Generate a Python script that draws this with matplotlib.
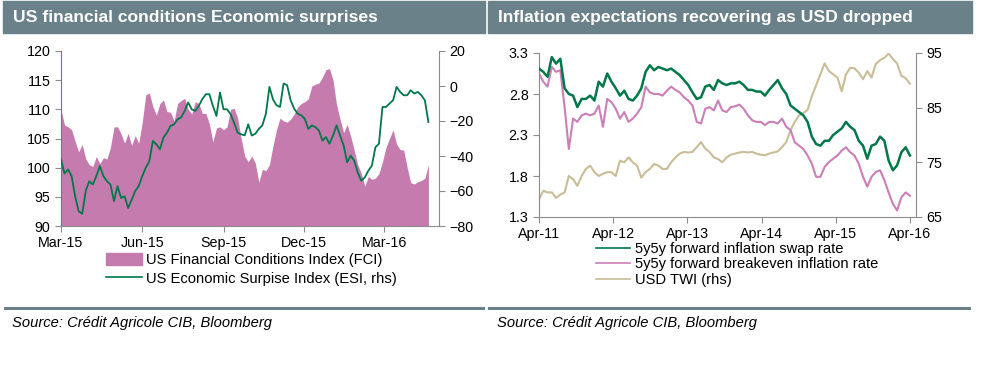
import numpy as np
import pandas as pd
import matplotlib
matplotlib.use("Agg")
import matplotlib.pyplot as plt
import matplotlib.dates as mdates
from matplotlib.patches import Rectangle, Patch
from matplotlib.lines import Line2D

plt.rcParams['font.family'] = ['Liberation Sans', 'DejaVu Sans']

BAR = '#6A8189'
SPINE = '#8C8C8C'

# left panel: sampled every 4 days from 1 Mar 2015
fci = [110.0, 107.3, 107.0, 106.5, 104.5, 102.7, 104.0, 101.5, 100.5, 100.2,
       101.9, 100.7, 101.7, 101.5, 103.5, 107.0, 107.0, 105.8, 104.2, 105.9,
       103.8, 105.5, 104.2, 107.8, 112.5, 112.8, 110.5, 109.0, 111.0, 111.6,
       109.6, 109.5, 108.0, 111.0, 111.5, 111.9, 110.0, 109.2, 111.3, 111.0,
       109.3, 109.3, 107.5, 104.4, 106.8, 107.0, 106.5, 107.0, 110.0, 110.2,
       108.5, 105.0, 102.0, 101.0, 102.0, 100.8, 97.5, 99.7, 99.5, 100.5,
       103.7, 106.5, 108.5, 108.0, 107.8, 108.3, 109.2, 110.4, 111.0, 111.3,
       111.8, 114.0, 114.3, 114.5, 115.5, 116.8, 117.0, 115.0, 110.8, 108.3,
       106.0, 107.4, 105.4, 103.0, 100.5, 99.0, 96.8, 98.5, 98.0, 98.2,
       99.0, 101.0, 103.5, 105.0, 106.5, 104.0, 103.1, 103.0, 100.0, 97.4,
       97.2, 97.6, 97.8, 98.2, 100.5]
esi = [-42, -50, -47.7, -51.5, -63, -71.6, -73, -60, -54.4, -56.3,
       -51.5, -45.8, -51.5, -54.4, -56.3, -65.8, -57.2, -64, -63, -69.7,
       -65, -60, -57.2, -51.5, -46.7, -43, -31.4, -33.3, -36.2, -29.5,
       -26.7, -22.8, -21.9, -19, -18, -14.2, -9.4, -13.3, -14.2, -11.4,
       -7.5, -4.7, -4.7, -11.4, -17.1, -3.7, -13.3, -13.3, -16.1, -21,
       -26.7, -27.6, -28.2, -21.9, -28.3, -27.3, -24.5, -22.5, -15.8, -0.5,
       -7.6, -11, -12, 1.4, 0.5, -8.2, -13, -15.8, -16.8, -18.7,
       -24.5, -22.5, -23.5, -25.4, -31.2, -29.2, -33, -28.3, -22.5, -28.3,
       -34, -43.6, -39.8, -42.7, -49.4, -54.2, -52.2, -48.4, -45.5, -35,
       -33, -12, -12, -10, -8.2, -0.5, -3.4, -5.3, -5.3, -2.4,
       -4.3, -3.4, -5.3, -8.2, -20.6]
left_dates = pd.date_range('2015-03-01', periods=len(fci), freq='4D')
left_ticks = ['2015-03-01', '2015-06-01', '2015-09-01', '2015-12-01', '2016-03-01']

# right panel: sampled every 21 days from 1 Apr 2011
swap = [3.11, 3.07, 3.01, 3.25, 3.17, 3.23, 2.87, 2.80, 2.78, 2.64,
        2.74, 2.74, 2.78, 2.72, 2.95, 2.89, 3.05, 2.95, 2.87, 2.78,
        2.84, 2.74, 2.72, 2.78, 2.87, 3.07, 3.15, 3.09, 3.13, 3.11,
        3.09, 3.11, 3.07, 3.03, 2.97, 2.91, 2.82, 2.74, 2.76, 2.89,
        2.91, 2.85, 2.97, 2.93, 2.91, 2.93, 2.93, 2.95, 2.91, 2.85,
        2.85, 2.83, 2.83, 2.78, 2.85, 2.91, 2.97, 2.87, 2.80, 2.66,
        2.62, 2.58, 2.54, 2.46, 2.28, 2.19, 2.17, 2.23, 2.23, 2.30,
        2.34, 2.38, 2.46, 2.40, 2.36, 2.23, 2.17, 2.01, 2.17, 2.19,
        2.28, 2.23, 1.99, 1.87, 1.93, 2.09, 2.15, 2.05]
breakeven = [3.05, 2.95, 2.89, 3.13, 3.07, 3.09, 2.64, 2.13, 2.50, 2.46,
             2.54, 2.56, 2.54, 2.56, 2.66, 2.40, 2.74, 2.70, 2.62, 2.50,
             2.58, 2.46, 2.50, 2.56, 2.64, 2.89, 2.82, 2.80, 2.80, 2.78,
             2.84, 2.89, 2.85, 2.82, 2.76, 2.72, 2.66, 2.46, 2.44, 2.62,
             2.64, 2.60, 2.72, 2.60, 2.58, 2.64, 2.65, 2.67, 2.62, 2.54,
             2.48, 2.46, 2.46, 2.42, 2.46, 2.46, 2.44, 2.50, 2.40, 2.36,
             2.21, 2.17, 2.13, 2.05, 1.95, 1.79, 1.79, 1.91, 1.97, 2.01,
             2.05, 2.11, 2.15, 2.09, 2.05, 1.95, 1.79, 1.67, 1.79, 1.85,
             1.87, 1.75, 1.60, 1.46, 1.38, 1.54, 1.60, 1.56]
twi = [68.2, 69.8, 69.5, 69.5, 68.5, 69.1, 69.5, 72.5, 71.9, 70.7,
       72.5, 73.8, 74.4, 73.2, 72.5, 72.9, 73.2, 73.2, 72.5, 75.3,
       75.0, 75.9, 75.0, 74.4, 72.2, 73.2, 73.8, 74.7, 74.4, 73.8,
       73.8, 75.0, 75.9, 76.6, 76.9, 76.8, 76.9, 77.8, 78.7, 77.5,
       76.9, 75.9, 75.6, 75.0, 75.9, 76.4, 76.6, 76.8, 76.9, 76.8,
       76.9, 76.6, 76.4, 76.3, 76.6, 76.8, 77.0, 77.8, 78.7, 80.9,
       82.4, 83.6, 84.0, 84.6, 87.1, 89.1, 91.1, 93.1, 91.7, 91.1,
       90.5, 88.0, 91.1, 92.3, 92.2, 91.4, 90.2, 91.7, 90.5, 93.0,
       93.7, 94.1, 94.9, 93.9, 93.1, 90.8, 90.4, 89.4]
right_dates = pd.date_range('2011-04-01', periods=len(swap), freq='21D')
right_ticks = ['2011-04-01', '2012-04-01', '2013-04-01', '2014-04-01',
               '2015-04-01', '2016-04-01']

W, H = 988, 384
fig = plt.figure(figsize=(W / 100, H / 100), dpi=100)


def fx(px):
    return px / W


def fy(py):
    return 1 - py / H


def style_axes(ax):
    for s in ['top', 'right']:
        ax.spines[s].set_visible(False)
    for s in ['left', 'bottom']:
        ax.spines[s].set_color(SPINE)
    ax.tick_params(colors=SPINE, labelcolor='black', labelsize=10.3,
                   length=4, width=0.8)


# title bars, separators, sources
for x0, x1, title in [(3, 485, 'US financial conditions Economic surprises'),
                      (488, 972, 'Inflation expectations recovering as USD dropped')]:
    fig.patches.append(Rectangle((fx(x0), fy(33)), fx(x1 - x0), 32 / H,
                                 transform=fig.transFigure, color=BAR, zorder=0))
    fig.text(fx(x0 + 10), fy(17.5), title, color='white', fontsize=12.6,
             fontweight='bold', va='center', ha='left')
for x0, x1 in [(5, 483), (489, 969)]:
    fig.add_artist(Line2D([fx(x0), fx(x1)], [fy(307.5), fy(307.5)],
                          transform=fig.transFigure, color=BAR, lw=2.2))
for x0 in [12, 497]:
    fig.text(fx(x0), fy(323), 'Source: Crédit Agricole CIB, Bloomberg',
             fontsize=10.6, style='italic', va='center', ha='left')

# left chart
ax1 = fig.add_axes([fx(61), fy(226), fx(439 - 61), (226 - 51) / H])
ax1.fill_between(left_dates, 90, fci, color='#C57BAE', lw=0)
ax1.set_ylim(90, 120)
ax1.set_yticks(np.arange(90, 121, 5))
ax1.set_xlim(pd.Timestamp('2015-03-01'), pd.Timestamp('2016-05-02'))
ax1.set_xticks(pd.to_datetime(left_ticks))
ax1.xaxis.set_major_formatter(mdates.DateFormatter('%b-%y'))
style_axes(ax1)
ax1.spines['left'].set_color('#4F7FB8')
ax1b = ax1.twinx()
ax1b.plot(left_dates, esi, color='#00784A', lw=1.3)
ax1b.set_ylim(-80, 20)
ax1b.set_yticks(np.arange(-80, 21, 20))
for s in ['top', 'left', 'bottom']:
    ax1b.spines[s].set_visible(False)
ax1b.spines['right'].set_color(SPINE)
ax1b.tick_params(colors=SPINE, labelcolor='black', labelsize=10.3, length=4, width=0.8)

fig.legend(handles=[Patch(color='#C57BAE', label='US Financial Conditions Index (FCI)'),
                    Line2D([], [], color='#00784A', lw=1.2,
                           label='US Economic Surpise Index (ESI, rhs)')],
           loc='upper left', bbox_to_anchor=(fx(106), fy(253)), frameon=False,
           fontsize=10.6, handlelength=2.45, handleheight=0.9, handletextpad=0.3,
           labelspacing=0.3, borderpad=0, borderaxespad=0)

# right chart
ax2 = fig.add_axes([fx(539), fy(217), fx(916 - 539), (217 - 53) / H])
ax2.plot(right_dates, swap, color='#00784A', lw=1.8, zorder=3)
ax2.plot(right_dates, breakeven, color='#CC7EB6', lw=1.5, zorder=2)
ax2.set_ylim(1.3, 3.3)
ax2.set_yticks([1.3, 1.8, 2.3, 2.8, 3.3])
ax2.set_xlim(pd.Timestamp('2011-04-01'), pd.Timestamp('2016-05-01'))
ax2.set_xticks(pd.to_datetime(right_ticks))
ax2.xaxis.set_major_formatter(mdates.DateFormatter('%b-%y'))
style_axes(ax2)
ax2b = ax2.twinx()
ax2b.plot(right_dates, twi, color='#C9BD98', lw=1.5)
ax2b.set_ylim(65, 95)
ax2b.set_yticks([65, 75, 85, 95])
for s in ['top', 'left', 'bottom']:
    ax2b.spines[s].set_visible(False)
ax2b.spines['right'].set_color(SPINE)
ax2b.tick_params(colors=SPINE, labelcolor='black', labelsize=10.3, length=4, width=0.8)
ax2.set_zorder(ax2b.get_zorder() + 1)
ax2.patch.set_visible(False)

fig.legend(handles=[Line2D([], [], color='#00784A', lw=1.2, label='5y5y forward inflation swap rate'),
                    Line2D([], [], color='#CC7EB6', lw=1.2, label='5y5y forward breakeven inflation rate'),
                    Line2D([], [], color='#C9BD98', lw=1.2, label='USD TWI (rhs)')],
           loc='upper left', bbox_to_anchor=(fx(596), fy(242)), frameon=False,
           fontsize=10.6, handlelength=2.3, handletextpad=0.35,
           labelspacing=0.1, borderpad=0, borderaxespad=0)

fig.savefig('out.png', dpi=100, facecolor='white')
